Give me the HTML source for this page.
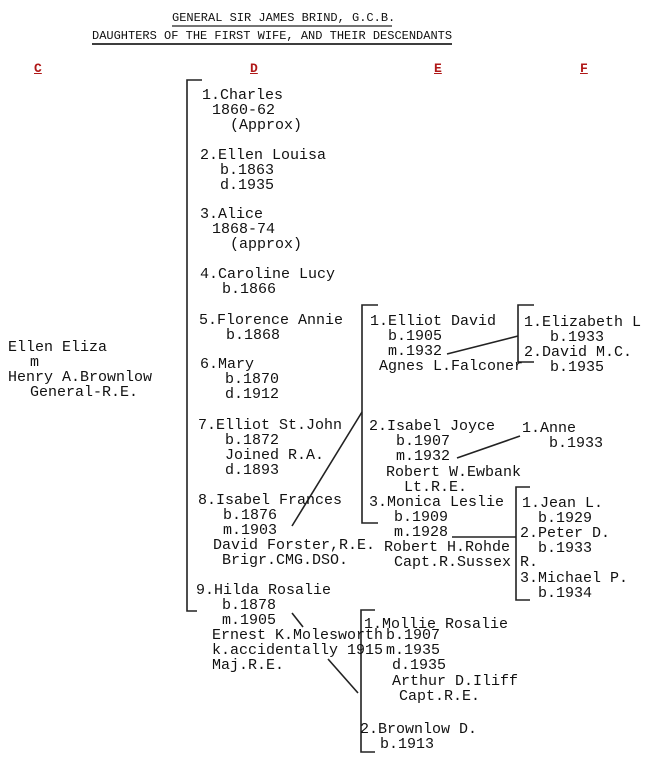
<!DOCTYPE html>
<html><head><meta charset="utf-8"><style>
body{margin:0;background:#fff;}
#p{position:relative;width:650px;height:776px;overflow:hidden;background:#fff;font-family:"Liberation Mono",monospace;font-size:15px;line-height:15px;color:#111;}
#p div{position:absolute;white-space:pre;}
.t{font-size:12px;line-height:12px;}
.h{color:#b01818;font-weight:bold;font-size:13px;text-decoration:underline;}
svg{position:absolute;left:0;top:0;}
</style></head><body><div id="p">
<svg width="650" height="776" stroke="#222" stroke-width="1.6" fill="none">
<line x1="172" y1="26" x2="392" y2="26" stroke-width="1.2"/>
<line x1="92" y1="44" x2="452" y2="44" stroke-width="1.8"/>
<polyline points="202,80 187,80 187,611 197,611"/>
<polyline points="378,305 362,305 362,523 378,523"/>
<polyline points="534,305 518,305 518,362 534,362"/>
<polyline points="530,487 516,487 516,600 530,600"/>
<polyline points="375,610 361,610 361,752 375,752"/>
<line x1="292" y1="526" x2="362" y2="412"/>
<line x1="447" y1="354" x2="518" y2="336"/>
<line x1="457" y1="458" x2="520" y2="436"/>
<line x1="452" y1="537" x2="516" y2="537"/>
<line x1="292" y1="613" x2="303" y2="627"/>
<line x1="328" y1="659" x2="358" y2="693"/>
</svg>
<div class="t" style="left:172px;top:12px">GENERAL SIR JAMES BRIND, G.C.B.</div>
<div class="t" style="left:92px;top:30px">DAUGHTERS OF THE FIRST WIFE, AND THEIR DESCENDANTS</div>
<div class="h" style="left:34px;top:61px">C</div>
<div class="h" style="left:250px;top:61px">D</div>
<div class="h" style="left:434px;top:61px">E</div>
<div class="h" style="left:580px;top:61px">F</div>

<div style="left:8px;top:340px">Ellen Eliza</div>
<div style="left:30px;top:355px">m</div>
<div style="left:8px;top:370px">Henry A.Brownlow</div>
<div style="left:30px;top:385px">General-R.E.</div>

<div style="left:202px;top:88px">1.Charles</div>
<div style="left:212px;top:103px">1860-62</div>
<div style="left:230px;top:118px">(Approx)</div>
<div style="left:200px;top:148px">2.Ellen Louisa</div>
<div style="left:220px;top:163px">b.1863</div>
<div style="left:220px;top:178px">d.1935</div>
<div style="left:200px;top:207px">3.Alice</div>
<div style="left:212px;top:222px">1868-74</div>
<div style="left:230px;top:237px">(approx)</div>
<div style="left:200px;top:267px">4.Caroline Lucy</div>
<div style="left:222px;top:282px">b.1866</div>
<div style="left:199px;top:313px">5.Florence Annie</div>
<div style="left:226px;top:328px">b.1868</div>
<div style="left:200px;top:357px">6.Mary</div>
<div style="left:225px;top:372px">b.1870</div>
<div style="left:225px;top:387px">d.1912</div>
<div style="left:198px;top:418px">7.Elliot St.John</div>
<div style="left:225px;top:433px">b.1872</div>
<div style="left:225px;top:448px">Joined R.A.</div>
<div style="left:225px;top:463px">d.1893</div>
<div style="left:198px;top:493px">8.Isabel Frances</div>
<div style="left:223px;top:508px">b.1876</div>
<div style="left:223px;top:523px">m.1903</div>
<div style="left:213px;top:538px">David Forster,R.E.</div>
<div style="left:222px;top:553px">Brigr.CMG.DSO.</div>
<div style="left:196px;top:583px">9.Hilda Rosalie</div>
<div style="left:222px;top:598px">b.1878</div>
<div style="left:222px;top:613px">m.1905</div>
<div style="left:212px;top:628px">Ernest K.Molesworth</div>
<div style="left:212px;top:643px">k.accidentally 1915</div>
<div style="left:212px;top:658px">Maj.R.E.</div>

<div style="left:370px;top:314px">1.Elliot David</div>
<div style="left:388px;top:329px">b.1905</div>
<div style="left:388px;top:344px">m.1932</div>
<div style="left:379px;top:359px">Agnes L.Falconer</div>
<div style="left:369px;top:419px">2.Isabel Joyce</div>
<div style="left:396px;top:434px">b.1907</div>
<div style="left:396px;top:449px">m.1932</div>
<div style="left:386px;top:465px">Robert W.Ewbank</div>
<div style="left:404px;top:480px">Lt.R.E.</div>
<div style="left:369px;top:495px">3.Monica Leslie</div>
<div style="left:394px;top:510px">b.1909</div>
<div style="left:394px;top:525px">m.1928</div>
<div style="left:384px;top:540px">Robert H.Rohde</div>
<div style="left:394px;top:555px">Capt.R.Sussex R.</div>

<div style="left:524px;top:315px">1.Elizabeth L</div>
<div style="left:550px;top:330px">b.1933</div>
<div style="left:524px;top:345px">2.David M.C.</div>
<div style="left:550px;top:360px">b.1935</div>
<div style="left:522px;top:421px">1.Anne</div>
<div style="left:549px;top:436px">b.1933</div>
<div style="left:522px;top:496px">1.Jean L.</div>
<div style="left:538px;top:511px">b.1929</div>
<div style="left:520px;top:526px">2.Peter D.</div>
<div style="left:538px;top:541px">b.1933</div>
<div style="left:520px;top:571px">3.Michael P.</div>
<div style="left:538px;top:586px">b.1934</div>

<div style="left:364px;top:617px">1.Mollie Rosalie</div>
<div style="left:386px;top:628px">b.1907</div>
<div style="left:386px;top:643px">m.1935</div>
<div style="left:392px;top:658px">d.1935</div>
<div style="left:392px;top:674px">Arthur D.Iliff</div>
<div style="left:399px;top:689px">Capt.R.E.</div>
<div style="left:360px;top:722px">2.Brownlow D.</div>
<div style="left:380px;top:737px">b.1913</div>
</div></body></html>
